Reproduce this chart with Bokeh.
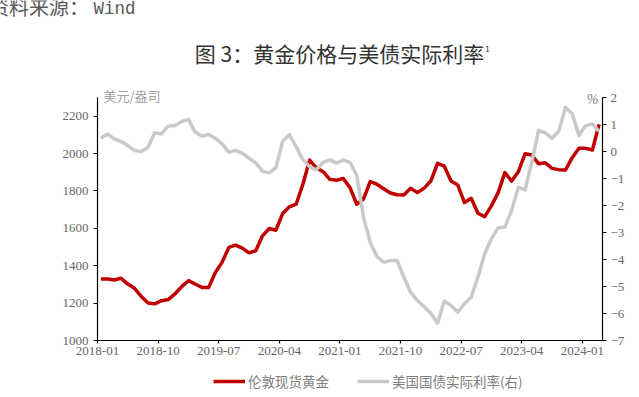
from bokeh.plotting import figure
from bokeh.models import Range1d, LinearAxis, FixedTicker, Label, Legend, LegendItem
from bokeh.embed import file_html
from bokeh.resources import INLINE

# ---- data (monthly averages, 2018-01 .. 2024-03, plotted mid-month) ----
tick_labels = ["2018-01", "2018-10", "2019-07", "2020-04", "2021-01",
               "2021-10", "2022-07", "2023-04", "2024-01"]
tick_pos = [0, 9, 18, 27, 36, 45, 54, 63, 72]

gold = [1329, 1329, 1324, 1333, 1302, 1279, 1236, 1201, 1196, 1213, 1219, 1249,
        1288, 1320, 1302, 1284, 1284, 1364, 1418, 1498, 1510, 1494, 1469, 1480,
        1560, 1599, 1590, 1679, 1715, 1729, 1836, 1965, 1924, 1903, 1862, 1857,
        1867, 1818, 1729, 1756, 1850, 1836, 1812, 1789, 1780, 1779, 1814, 1791,
        1814, 1853, 1948, 1933, 1853, 1832, 1738, 1761, 1681, 1663, 1720, 1791,
        1898, 1853, 1903, 1999, 1992, 1946, 1951, 1921, 1914, 1912, 1978, 2028,
        2028, 2019, 2156]

real_rate = [0.49, 0.65, 0.47, 0.37, 0.22, 0.04, 0.00, 0.16, 0.69, 0.65, 0.94, 0.96,
             1.11, 1.19, 0.72, 0.57, 0.63, 0.49, 0.28, -0.03, 0.04, -0.06, -0.25, -0.42,
             -0.73, -0.79, -0.60, 0.38, 0.62, 0.18, -0.30, -0.56, -0.68, -0.40, -0.31, -0.43,
             -0.31, -0.40, -0.89, -2.43, -3.36, -3.89, -4.10, -4.04, -4.04, -4.65, -5.21, -5.52,
             -5.74, -5.99, -6.36, -5.54, -5.70, -5.95, -5.64, -5.40, -4.65, -3.79, -3.23, -2.83,
             -2.80, -2.18, -1.32, -1.42, -0.40, 0.78, 0.69, 0.49, 0.75, 1.64, 1.40, 0.59,
             0.96, 1.02, 0.75]

# month index measured from 2018-01 (tick at start of month), points at mid-month
months = [i + 0.5 for i in range(len(gold))]

RED = "#C00000"
GRAY = "#C9C9C9"
LBL = "#666666"
CJK = "Noto Sans CJK SC"
SERIF = "Liberation Serif"

# canvas geometry (px); the frame covers the whole canvas and axes sit at fixed spots
W, H = 639, 397
AX_L, AX_R, AX_T, AX_B = 97, 602, 97, 340
x_lo, x_hi = 0, 75
gold_lo, gold_hi = 1000, 2300
rate_lo, rate_hi = -7, 2

sx = (AX_R - AX_L) / (x_hi - x_lo)
sg = (AX_B - AX_T) / (gold_hi - gold_lo)
sr = (AX_B - AX_T) / (rate_hi - rate_lo)

p = figure(width=W, height=H, output_backend="svg", toolbar_location=None,
           x_range=Range1d(x_lo - AX_L / sx, x_hi + (W - AX_R) / sx),
           y_range=Range1d(gold_lo - (H - AX_B) / sg, gold_hi + AX_T / sg),
           min_border=0)
p.extra_y_ranges = {"rate": Range1d(rate_lo - (H - AX_B) / sr, rate_hi + AX_T / sr)}
p.outline_line_color = None
p.grid.visible = False
p.background_fill_color = "white"
p.border_fill_color = "white"


def style_axis(ax, tick_out, standoff):
    ax.axis_line_color = "#000000"
    ax.axis_line_width = 1.2
    ax.major_tick_line_color = "#000000"
    ax.major_tick_line_width = 1.2
    ax.major_tick_out = tick_out
    ax.major_tick_in = 0
    ax.minor_tick_line_color = None
    ax.major_label_text_font = SERIF
    ax.major_label_text_font_size = "13px"
    ax.major_label_text_color = LBL
    ax.major_label_standoff = standoff


xa = p.xaxis[0]
xa.ticker = FixedTicker(ticks=tick_pos)
xa.major_label_overrides = {t: l for t, l in zip(tick_pos, tick_labels)}
xa.fixed_location = gold_lo
xa.bounds = (x_lo, x_hi)
style_axis(xa, 3, 3)

ya = p.yaxis[0]
ya.ticker = FixedTicker(ticks=[1000, 1200, 1400, 1600, 1800, 2000, 2200])
ya.fixed_location = x_lo
ya.bounds = (gold_lo, gold_hi)
style_axis(ya, 4, 5)

ra = LinearAxis(y_range_name="rate", ticker=FixedTicker(ticks=list(range(-7, 3))),
                fixed_location=x_hi, bounds=(rate_lo, rate_hi))
style_axis(ra, 4, 4)
p.add_layout(ra, "right")

r_gold = p.line(months, gold, line_color=RED, line_width=3.5, line_join="round")
r_rate = p.line(months, real_rate, y_range_name="rate", line_color=GRAY,
                line_width=3.5, line_join="round")

legend = Legend(items=[LegendItem(label="伦敦现货黄金", renderers=[r_gold]),
                       LegendItem(label="美国国债实际利率(右)", renderers=[r_rate])],
                orientation="horizontal", location=(213, H - 391),
                glyph_width=32, glyph_height=14, label_height=14,
                label_standoff=3, spacing=28, padding=0, margin=0,
                label_text_font=CJK, label_text_font_size="13.5px",
                label_text_color="#808080",
                border_line_color=None, background_fill_alpha=0)
p.add_layout(legend)


def lab(text, cx, cy, **kw):
    p.add_layout(Label(x=cx, y=H - cy, x_units="screen", y_units="screen",
                       text=text, **kw))


lab("资料来源：", -11.5, 6, text_font=CJK, text_font_size="20px",
    text_color="#595959", text_baseline="middle")
lab("Wind", 93, 8, text_font="Liberation Mono", text_font_size="17.5px",
    text_color="#595959", text_baseline="middle")
lab("图 3：黄金价格与美债实际利率", 339, 52, text_font=CJK, text_font_size="21px",
    text_color="#333333", text_align="center", text_baseline="middle")
lab("1", 487, 48, text_font=CJK, text_font_size="8px",
    text_color="#333333", text_align="center", text_baseline="alphabetic")
lab("美元/盎司", 103, 95, text_font=CJK, text_font_size="13px",
    text_color="#A0A0A0", text_baseline="middle")
lab("%", 592, 99, text_font=SERIF, text_font_size="14px", text_font_style="italic",
    text_color="#808080", text_align="center", text_baseline="middle")

open("out.html", "w").write(file_html(p, INLINE))
